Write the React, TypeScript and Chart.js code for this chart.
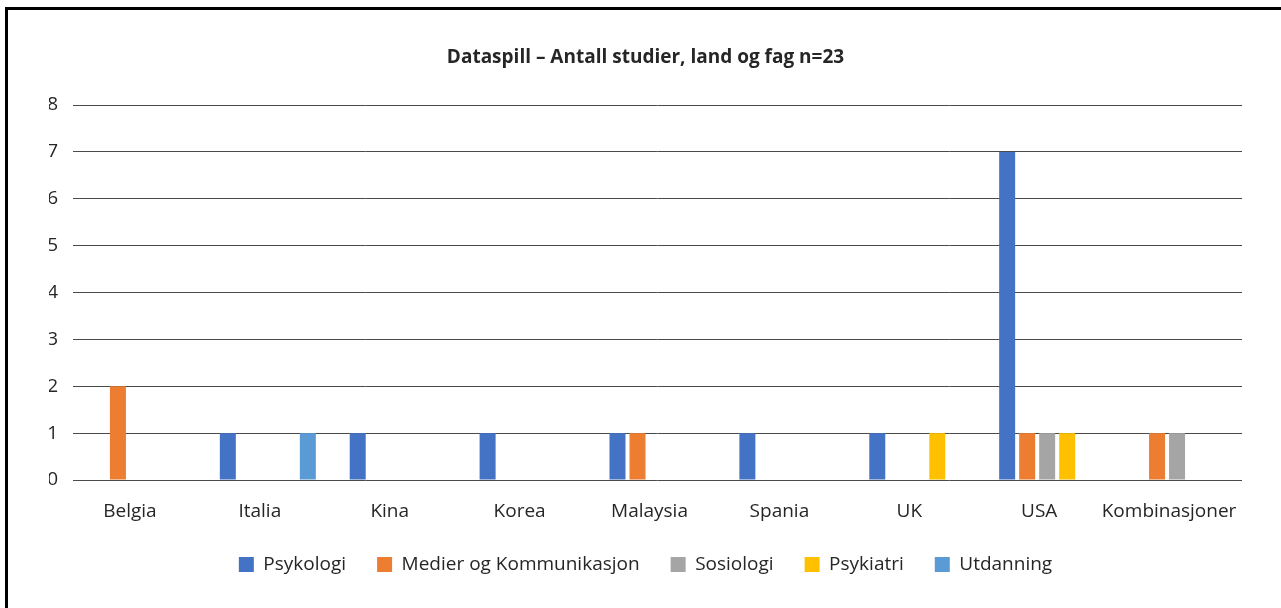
import React, { useEffect, useRef } from "react";
import { Chart, registerables } from "chart.js";

Chart.register(...registerables);

const categories = ["Belgia", "Italia", "Kina", "Korea", "Malaysia", "Spania", "UK", "USA", "Kombinasjoner"];
const psykologi = [0, 1, 1, 1, 1, 1, 1, 7, 0];
const medier = [2, 0, 0, 0, 1, 0, 0, 1, 1];
const sosiologi = [0, 0, 0, 0, 0, 0, 0, 1, 1];
const psykiatri = [0, 0, 0, 0, 0, 0, 1, 1, 0];
const utdanning = [0, 1, 0, 0, 0, 0, 0, 0, 0];
const yTicks = [0, 1, 2, 3, 4, 5, 6, 7, 8];
const titleText = "Dataspill – Antall studier, land og fag n=23";

const FONT = "'Open Sans', sans-serif";
const TEXT = "#262626";

export default function App() {
  const ref = useRef<HTMLCanvasElement | null>(null);
  useEffect(() => {
    document.body.style.margin = "0";
    const ctx = ref.current!.getContext("2d")!;
    const mk = (label: string, data: number[], color: string) => ({
      label,
      data,
      backgroundColor: color,
      borderWidth: 0,
      categoryPercentage: 0.77,
      barPercentage: 0.8,
    });
    const chart = new Chart(ctx, {
      type: "bar",
      data: {
        labels: categories,
        datasets: [
          mk("Psykologi", psykologi, "#4472C4"),
          mk("Medier og Kommunikasjon", medier, "#ED7D31"),
          mk("Sosiologi", sosiologi, "#A5A5A5"),
          mk("Psykiatri", psykiatri, "#FFC000"),
          mk("Utdanning", utdanning, "#5B9BD5"),
        ],
      },
      options: {
        animation: false,
        responsive: false,
        layout: { padding: { left: 49, right: 39, top: 0, bottom: 24 } },
        plugins: {
          tooltip: { enabled: false },
          title: {
            display: true,
            text: titleText,
            color: TEXT,
            font: { family: FONT, size: 19, weight: "bold" },
            padding: { top: 46.6, bottom: 35.6 },
          },
          legend: {
            position: "bottom",
            labels: {
              color: TEXT,
              font: { family: FONT, size: 19 },
              boxWidth: 15,
              boxHeight: 15,
              padding: 31,
            },
          },
        },
        scales: {
          x: {
            grid: { display: false, drawTicks: false },
            border: { display: false },
            ticks: {
              color: TEXT,
              font: { family: FONT, size: 19 },
              padding: 20.5,
              labelOffset: -8,
              maxRotation: 0,
              autoSkip: false,
            },
            afterFit: (s: any) => {
              s.height = 44;
            },
          },
          y: {
            min: 0,
            max: 8,
            grid: { color: "#4a4a4a", lineWidth: 1, drawTicks: false },
            border: { display: false },
            afterBuildTicks: (s: any) => {
              s.ticks = yTicks.map((v) => ({ value: v }));
            },
            ticks: {
              color: TEXT,
              font: { family: FONT, size: 19 },
              padding: 15,
            },
            afterFit: (s: any) => {
              s.width = 24;
            },
          },
        },
      },
    });
    return () => chart.destroy();
  }, []);
  return (
    <div style={{ position: "relative", width: 1281, height: 608, overflow: "hidden", background: "#fff" }}>
      <canvas ref={ref} width={1281} height={608} style={{ position: "absolute", left: 0, top: 0 }} />
      <div
        style={{
          position: "absolute",
          left: 5,
          top: 7,
          width: 1300,
          height: 700,
          borderLeft: "3px solid #000",
          borderTop: "3px solid #000",
          pointerEvents: "none",
        }}
      />
    </div>
  );
}
